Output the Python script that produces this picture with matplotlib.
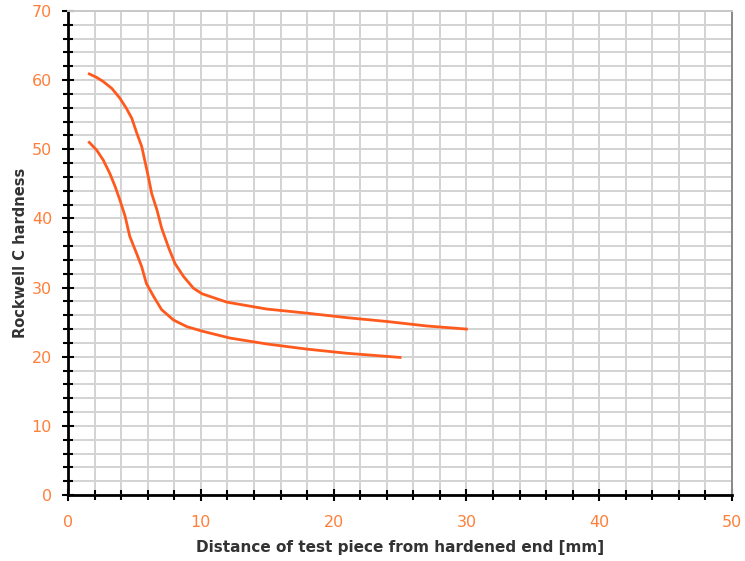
import numpy as np
import matplotlib
matplotlib.use("Agg")
import matplotlib.pyplot as plt
from matplotlib.ticker import MultipleLocator

# distance from hardened end [mm] and Rockwell C hardness
upper_x = [1.6, 2.15, 2.65, 3.3, 3.9, 4.4, 4.8, 5.15, 5.55, 5.8, 6.05, 6.3, 6.7,
           7.05, 7.55, 8.05, 8.7, 9.45, 10.1, 11.95, 14.95, 18.0, 21.0, 24.0, 27.0, 30.0]
upper_y = [60.9, 60.4, 59.8, 58.8, 57.4, 55.9, 54.5, 52.5, 50.4, 48.2, 46.0, 43.6, 41.2,
           38.6, 35.9, 33.5, 31.6, 29.9, 29.1, 27.9, 26.9, 26.3, 25.65, 25.1, 24.45, 24.0]

lower_x = [1.6, 2.15, 2.65, 3.15, 3.55, 3.9, 4.3, 4.65, 5.15, 5.55, 5.9, 6.45,
           7.05, 7.95, 8.95, 10.1, 12.2, 14.95, 18.0, 21.0, 25.0]
lower_y = [51.0, 49.9, 48.45, 46.5, 44.6, 42.7, 40.3, 37.4, 35.0, 33.0, 30.6, 28.7,
           26.8, 25.3, 24.35, 23.7, 22.7, 21.85, 21.1, 20.5, 19.9]

line_col = "#ff5a1e"
label_col = "#ff7f3a"
text_col = "#333333"

fig = plt.figure(figsize=(7.45, 5.61), dpi=100)
ax = fig.add_axes([0.0913, 0.1176, 0.8913, 0.8628])

ax.plot(upper_x, upper_y, color=line_col, lw=2, zorder=3)
ax.plot(lower_x, lower_y, color=line_col, lw=2, zorder=3)

ax.set_xlim(0, 50)
ax.set_ylim(0, 70)
ax.xaxis.set_major_locator(MultipleLocator(10))
ax.xaxis.set_minor_locator(MultipleLocator(2))
ax.yaxis.set_major_locator(MultipleLocator(10))
ax.yaxis.set_minor_locator(MultipleLocator(2))

ax.grid(which="both", color="#d3d3d3", lw=1.4, zorder=0)
ax.set_axisbelow(True)

ax.tick_params(which="both", direction="inout", color="black", width=1.5)
ax.tick_params(which="major", length=9, labelsize=11.5, labelcolor=label_col)
ax.tick_params(axis="x", which="major", pad=10)
ax.tick_params(axis="y", which="major", pad=7)
ax.tick_params(which="minor", length=7)

for s in ["left", "bottom"]:
    ax.spines[s].set_color("black")
    ax.spines[s].set_linewidth(2)
ax.spines["top"].set_color("#c8c8c8")
ax.spines["top"].set_linewidth(1.4)
ax.spines["right"].set_color("#888888")
ax.spines["right"].set_linewidth(1.4)

ax.set_xlabel("Distance of test piece from hardened end [mm]", fontsize=11,
              fontweight="bold", color=text_col, labelpad=7)
ax.set_ylabel("Rockwell C hardness", fontsize=10.5, fontweight="bold",
              color=text_col, labelpad=3)

fig.savefig("out.png", dpi=100)
